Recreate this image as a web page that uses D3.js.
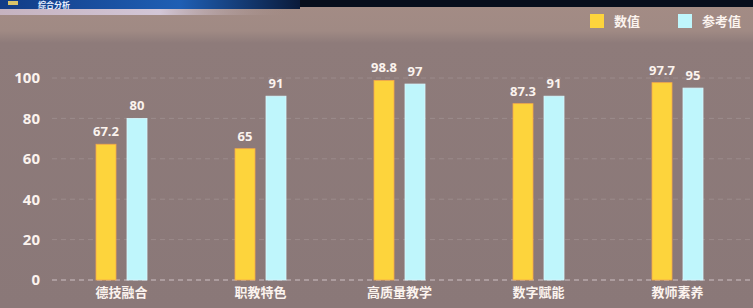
<!DOCTYPE html>
<html>
<head>
<meta charset="utf-8">
<script src="https://cdn.jsdelivr.net/npm/d3@7"></script>
<style>
  html, body { margin: 0; padding: 0; background: #8b7a79; }
  svg { display: block; }
  text { font-family: "Noto Sans CJK SC", "Noto Sans", sans-serif; }
</style>
</head>
<body>
<div id="chart"></div>
<script>
// chart data
var categories = ["德技融合", "职教特色", "高质量教学", "数字赋能", "教师素养"];
var seriesNames = ["数值", "参考值"];
var values = [67.2, 65, 98.8, 87.3, 97.7];
var refValues = [80, 91, 97, 91, 95];
var yTicks = [0, 20, 40, 60, 80, 100];
var colors = ["#fdd43c", "#bff6fc"];

var W = 753, H = 308;
var svg = d3.select("#chart").append("svg")
    .attr("width", W)
    .attr("height", H);

var defs = svg.append("defs");
var bg = defs.append("linearGradient").attr("id", "bg")
    .attr("x1", 0).attr("y1", 0).attr("x2", 0).attr("y2", 1);
bg.append("stop").attr("offset", "0%").attr("stop-color", "#a48c85");
bg.append("stop").attr("offset", "10%").attr("stop-color", "#a08a84");
bg.append("stop").attr("offset", "14%").attr("stop-color", "#8e7b7a");
bg.append("stop").attr("offset", "100%").attr("stop-color", "#8a7878");

var banner = defs.append("linearGradient").attr("id", "banner")
    .attr("x1", 0).attr("y1", 0).attr("x2", 1).attr("y2", 0);
banner.append("stop").attr("offset", "0%").attr("stop-color", "#123c86");
banner.append("stop").attr("offset", "60%").attr("stop-color", "#1f5fb4");
banner.append("stop").attr("offset", "100%").attr("stop-color", "#0a1a3a");

var glow = defs.append("linearGradient").attr("id", "glow")
    .attr("x1", 0).attr("y1", 0).attr("x2", 1).attr("y2", 0);
glow.append("stop").attr("offset", "0%").attr("stop-color", "#c9b7c6").attr("stop-opacity", 0.9);
glow.append("stop").attr("offset", "55%").attr("stop-color", "#d8cde0").attr("stop-opacity", 0.9);
glow.append("stop").attr("offset", "100%").attr("stop-color", "#a48c85").attr("stop-opacity", 0);

svg.append("rect").attr("width", W).attr("height", H).attr("fill", "url(#bg)");

// header strip
svg.append("rect").attr("x", 0).attr("y", 0).attr("width", W).attr("height", 7).attr("fill", "#070e1c");
svg.append("rect").attr("x", 0).attr("y", 0).attr("width", 300).attr("height", 9).attr("fill", "url(#banner)");
svg.append("rect").attr("x", 0).attr("y", 9).attr("width", 290).attr("height", 6).attr("fill", "url(#glow)");
svg.append("rect").attr("x", 8).attr("y", 1).attr("width", 10).attr("height", 4).attr("fill", "#d9c46a");
svg.append("text").attr("x", 38).attr("y", 8)
    .attr("fill", "#e8f0ff").style("font-size", "8px").style("font-weight", "bold")
    .text("综合分析");

var margin = {top: 78, left: 52, right: 6, bottom: 28};

var x0 = d3.scaleBand().domain(categories).range([margin.left, W - margin.right]);
var x1 = d3.scaleBand().domain(seriesNames).range([-25.5, 25.5]).paddingInner(0.355);
var y = d3.scaleLinear().domain([0, 100]).range([H - margin.bottom, margin.top]);

// gridlines
svg.append("g").selectAll("line")
    .data(yTicks)
    .enter().append("line")
    .attr("x1", margin.left).attr("x2", W - 2)
    .attr("y1", function(d) { return y(d); })
    .attr("y2", function(d) { return y(d); })
    .attr("stroke", function(d) { return d === 0 ? "#b8a8aa" : "#9b8b8b"; })
    .attr("stroke-width", function(d) { return d === 0 ? 1.5 : 1; })
    .attr("stroke-dasharray", "5,4");

// y axis labels
var yAxis = d3.axisLeft(y).tickValues(yTicks).tickSize(0).tickPadding(0);
var yg = svg.append("g")
    .attr("transform", "translate(40,0)")
    .call(yAxis);
yg.select(".domain").remove();
yg.selectAll("text")
    .attr("fill", "#fbf3ee")
    .style("font-size", "15px")
    .style("font-weight", "bold")
    .style("font-family", "\"Open Sans\", sans-serif");

// x axis labels
var xAxis = d3.axisBottom(x0).tickSize(0).tickPadding(8);
var xg = svg.append("g")
    .attr("transform", "translate(0," + (H - margin.bottom) + ")")
    .call(xAxis);
xg.select(".domain").remove();
xg.selectAll("text")
    .attr("fill", "#fbf3ee")
    .style("font-size", "13px")
    .style("font-weight", "bold");

// bars
var rows = categories.map(function(c, i) {
    return {cat: c, vals: [
        {s: seriesNames[0], v: values[i], c: colors[0]},
        {s: seriesNames[1], v: refValues[i], c: colors[1]}
    ]};
});

var groups = svg.append("g").selectAll("g")
    .data(rows)
    .enter().append("g")
    .attr("transform", function(d) { return "translate(" + (x0(d.cat) + x0.bandwidth() / 2) + ",0)"; });

groups.selectAll("rect")
    .data(function(d) { return d.vals; })
    .enter().append("rect")
    .attr("x", function(d) { return x1(d.s); })
    .attr("width", x1.bandwidth())
    .attr("y", function(d) { return y(d.v); })
    .attr("height", function(d) { return y(0) - y(d.v); })
    .attr("fill", function(d) { return d.c; })
    .attr("stroke", function(d, i) { return i === 0 ? "#f5a94a" : "#d8f8ff"; })
    .attr("stroke-width", 0.8);

groups.selectAll("text")
    .data(function(d) { return d.vals; })
    .enter().append("text")
    .attr("x", function(d) { return x1(d.s) + x1.bandwidth() / 2; })
    .attr("y", function(d) { return y(d.v) - 8; })
    .attr("text-anchor", "middle")
    .attr("fill", "#fbf3ee")
    .style("font-size", "13px")
    .style("font-weight", "bold")
    .style("font-family", "\"Open Sans\", sans-serif")
    .text(function(d) { return d.v; });

// legend
var legendX = [590, 678];
var legend = svg.append("g").selectAll("g")
    .data(seriesNames)
    .enter().append("g")
    .attr("transform", function(d, i) { return "translate(" + legendX[i] + ",14)"; });
legend.append("rect")
    .attr("width", 14).attr("height", 14)
    .attr("fill", function(d, i) { return colors[i]; });
legend.append("text")
    .attr("x", 24).attr("y", 12)
    .attr("fill", "#fbf3ee")
    .style("font-size", "13px")
    .style("font-weight", "bold")
    .text(function(d) { return d; });
</script>
</body>
</html>
